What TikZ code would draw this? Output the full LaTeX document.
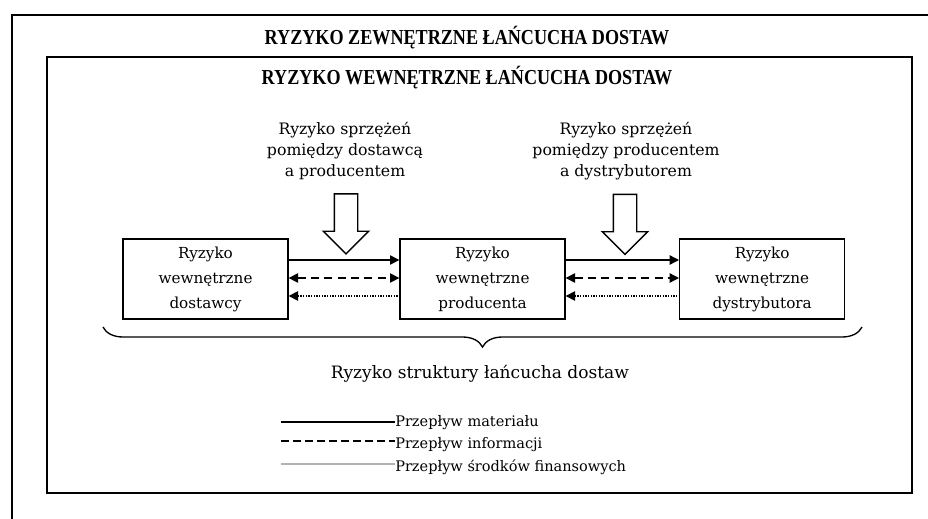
\documentclass[tikz,border=0pt]{standalone}
\usepackage{fontspec}
\setmainfont{DejaVu Serif}
\newfontfamily\titlefont[FakeStretch=0.85]{Liberation Serif}
\usetikzlibrary{positioning,arrows.meta,shapes.arrows,decorations.pathreplacing}

\tikzset{
  frame/.style={line width=2.2pt},
  title/.style={font=\titlefont\bfseries\fontsize{16}{18}\selectfont},
  riskbox/.style={draw, line width=1pt, minimum width=123.75pt, minimum height=60pt,
    inner sep=0pt, align=center, font=\fontsize{11.4}{18.75}\selectfont},
  coupling/.style={align=center, font=\fontsize{11.8}{16}\selectfont},
  hollow/.style={draw, line width=1pt, single arrow, shape border rotate=270,
    minimum height=45pt, inner sep=8.25pt, single arrow head extend=8.25pt},
  matflow/.style={line width=1pt, -{Triangle[length=7pt,width=7pt]}},
  infoflow/.style={line width=1pt, dash pattern=on 6pt off 4pt,
    {Triangle[length=7pt,width=7pt]}-{Triangle[length=7pt,width=7pt]}},
  finflow/.style={line width=1pt, densely dotted, {Triangle[length=7pt,width=7pt]}-},
  legtext/.style={anchor=west, inner sep=0pt, font=\fontsize{10.9}{12}\selectfont}
}

\begin{document}
\begin{tikzpicture}[x=0.75pt, y=-0.75pt, node distance=83pt]
\useasboundingbox (0,0) rectangle (928,518);
\clip (0,0) rectangle (928,518);

% ramki
\draw[frame] (12,540) -- (12,15) -- (950,15);
\draw[frame] (47,57) rectangle (912,493);
\node[title] (zew) at (467,38) {RYZYKO ZEWNĘTRZNE ŁAŃCUCHA DOSTAW};
\node[title] (wew) at (467,78) {RYZYKO WEWNĘTRZNE ŁAŃCUCHA DOSTAW};

% ogniwa lancucha
\node[riskbox] (dost) at (205.5,279) {Ryzyko\\wewnętrzne\\dostawcy};
\node[riskbox] (prod) [right=of dost] {Ryzyko\\wewnętrzne\\producenta};
\node[riskbox] (dystr) [right=85pt of prod] {Ryzyko\\wewnętrzne\\dystrybutora};

% sprzezenia
\node[coupling] (sprz1) at (345,151) {Ryzyko sprzężeń\\pomiędzy dostawcą\\a producentem};
\node[coupling] (sprz2) at (626,151) {Ryzyko sprzężeń\\pomiędzy producentem\\a dystrybutorem};
\node[hollow] (arr1) at (346,218) {};
\node[hollow] (arr2) at (625,218.5) {};

% przeplywy
\draw[matflow] ([yshift=14.25pt]dost.east) -- ([yshift=14.25pt]prod.west);
\draw[infoflow] ([yshift=0.75pt]dost.east) -- ([yshift=0.75pt]prod.west);
\draw[finflow] ([yshift=-12.75pt]dost.east) -- ([yshift=-12.75pt]prod.west);
\draw[matflow] ([yshift=14.25pt]prod.east) -- ([yshift=14.25pt]dystr.west);
\draw[infoflow] ([yshift=0.75pt]prod.east) -- ([yshift=0.75pt]dystr.west);
\draw[finflow] ([yshift=-12.75pt]prod.east) -- ([yshift=-12.75pt]dystr.west);

% struktura
\coordinate (bl) at (103,327);
\coordinate (br) at (862,327);
\draw[line width=1pt, decorate, decoration={brace, mirror, amplitude=15pt}] (bl) -- (br);
\node[coupling, font=\fontsize{12.8}{16}\selectfont] (strukt) at (480,374) {Ryzyko struktury łańcucha dostaw};

% legenda
\node[legtext] (leg1) at (395,423) {Przepływ materiału};
\node[legtext] (leg2) at (395,445) {Przepływ informacji};
\node[legtext] (leg3) at (395,467) {Przepływ środków finansowych};
\coordinate (l1) at (281,422);
\coordinate (l2) at (281,441);
\coordinate (l3) at (281,464);
\draw[line width=1pt] (l1) -- (l1 -| leg1.west);
\draw[line width=1pt, dash pattern=on 6pt off 3pt] (l2) -- (l2 -| leg2.west);
\draw[line width=0.8pt, gray!60] (l3) -- (l3 -| leg3.west);
\end{tikzpicture}
\end{document}
